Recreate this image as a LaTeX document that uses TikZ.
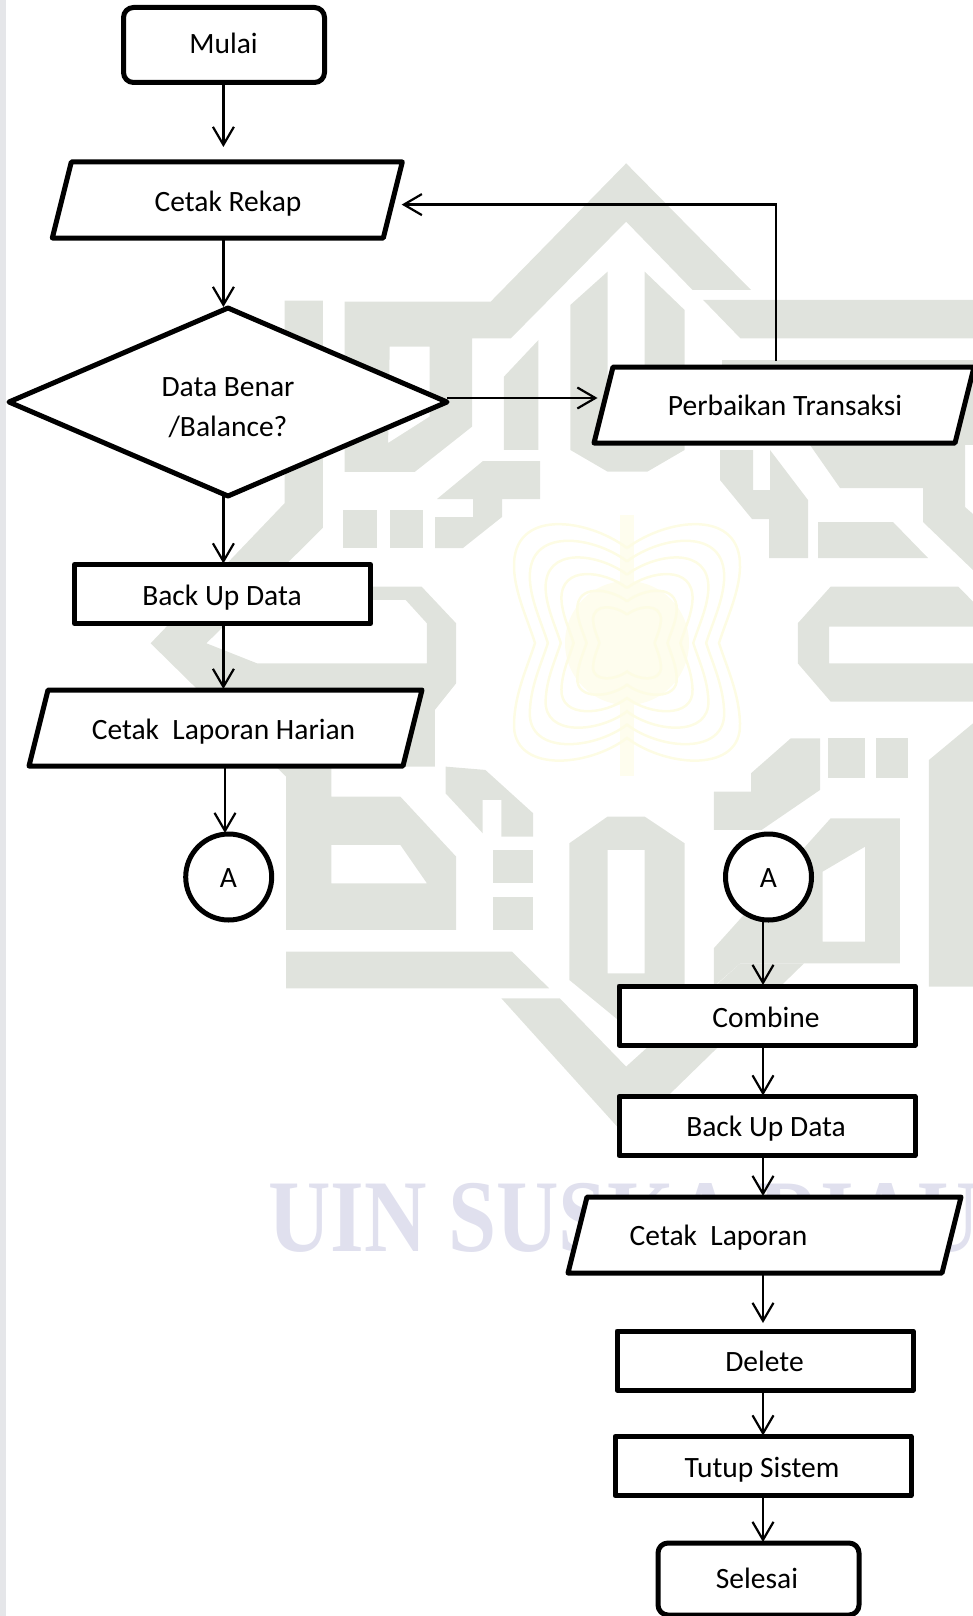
\documentclass[tikz,border=0pt]{standalone}
\usepackage{fontspec}
\setmainfont{Carlito}
\newfontfamily\wmfont{Liberation Serif}
\usetikzlibrary{arrows.meta,shapes.geometric,calc}
\definecolor{wmgray}{HTML}{E0E3DD}
\definecolor{wmyell}{HTML}{FEFDEE}
\definecolor{wmline}{HTML}{FDFCE4}
\definecolor{wmblue}{HTML}{E0E0EE}
\definecolor{wmside}{HTML}{E5E6E9}
\tikzset{
  boxed/.style={draw,line width=5pt,fill=white,inner sep=0pt,outer sep=0pt,line join=round},
  process/.style={boxed,rectangle,minimum width=296pt,minimum height=59pt},
  terminal/.style={boxed,rectangle,rounded corners=10pt,minimum width=201pt},
  dataio/.style={boxed,rectangle,xslant=0.25,minimum width=331pt,minimum height=76pt},
  connector/.style={boxed,circle,minimum size=86pt},
  lbl/.style={inner sep=0pt,font=\fontsize{29.5}{40}\selectfont,align=center},
  flow/.style={draw,line width=2.2pt,-{Straight Barb[length=18pt,width=21pt,line width=2.2pt]},shorten >=1pt}
}
\begin{document}
\begin{tikzpicture}[x=1pt,y=-1pt]
\useasboundingbox (0,0) rectangle (973,1616);
% watermark
\fill[wmside] (0,0) rectangle (6,1616);
\fill[wmyell] (627,643) circle (62pt);
\fill[wmyell] (620,515) rectangle (634,776);
\foreach \s in {1,.86,.72,.58,.44,.3}
  \draw[wmline,line width=2.5pt,shift={(627,643)},scale=\s]
    (0,-95) .. controls (-40,-125) and (-115,-135) .. (-113,-75) .. controls (-112,-50) and (-100,-25) .. (-92,0)
    .. controls (-100,25) and (-112,50) .. (-113,80) .. controls (-115,130) and (-40,125) .. (0,95)
    .. controls (40,125) and (115,130) .. (113,80) .. controls (112,50) and (100,25) .. (92,0)
    .. controls (100,-25) and (112,-50) .. (113,-75) .. controls (115,-135) and (40,-125) .. (0,-95);
\begin{scope}[wmgray]
\fill plot coordinates {(720,450) (753,450) (753,490) (770,490) (770,450) (808,500) (808,558) (769,558) (769,519) (752,519) (720,480)} -- cycle;
\fill plot coordinates {(810,445) (965,445) (965,507) (973,514) (973,570) (923,522) (923,488) (840,488)} -- cycle;
\fill plot coordinates {(818,522) (893,522) (928,558) (818,558)} -- cycle;
\fill plot coordinates {(343,510) (377,510) (377,548) (343,548)} -- cycle;
\fill plot coordinates {(390,510) (423,510) (423,548) (390,548)} -- cycle;
\fill plot coordinates {(435,517) (473,517) (473,499) (437,499) (483,461) (540,461) (540,499) (502,499) (502,517) (463,548) (435,548)} -- cycle;
\end{scope}
\begin{scope}[shift={(140,150)},x=0.5313pt,y=-0.3333pt,wmgray,even odd rule]
\fill plot coordinates {(385,455) (660,455) (915,40) (1150,420) (1040,420) (915,215) (698,565) (625,565) (625,830) (517,966) (385,966)} -- cycle
      plot coordinates {(470,590) (545,590) (545,800) (467,879)} -- cycle;
\fill plot coordinates {(685,680) (750,570) (750,900) (685,900)} -- cycle;
\fill plot coordinates {(880,365) (880,850) (950,850) (950,365) (1025,480) (1025,900) (955,965) (880,965) (810,900) (810,465)} -- cycle;
\fill plot coordinates {(1060,450) (1568,450) (1568,565) (1130,565)} -- cycle;
\fill plot coordinates {(1095,630) (1568,630) (1568,885) (1095,885)} -- cycle;
\fill plot coordinates {(1300,1310) (1540,1310) (1568,1355) (1568,1430) (1297,1430) (1297,1540) (1568,1540) (1568,1655) (1300,1655) (1238,1540) (1238,1420)} -- cycle;
\fill plot coordinates {(1568,1720) (1485,1830) (1485,2510) (1568,2510)} -- cycle;
\fill plot coordinates {(272,452) (344,452) (344,1134) (125,1480) (220,1540) (540,1540) (540,1420) (500,1350) (385,1350) (385,1310) (530,1310) (595,1420) (595,1600) (555,1680) (555,1850) (360,1850) (360,1940) (490,1940) (595,2120) (595,2340) (275,2340) (275,1880) (20,1480) (272,1060)} -- cycle
      plot coordinates {(360,2085) (490,2085) (540,2200) (360,2200)} -- cycle;
\fill plot coordinates {(275,2405) (700,2405) (770,2515) (275,2515)} -- cycle;
\fill plot coordinates {(575,1850) (650,1860) (740,1990) (740,2060) (680,2060) (680,1950) (645,1950) (645,2050) (575,1930)} -- cycle;
\fill plot coordinates {(665,2100) (740,2100) (740,2200) (665,2200)} -- cycle;
\fill plot coordinates {(665,2240) (740,2240) (740,2340) (665,2340)} -- cycle;
\fill plot coordinates {(880,2000) (950,2000) (1025,2080) (1025,2510) (915,2630) (808,2490) (808,2080)} -- cycle
      plot coordinates {(880,2100) (950,2100) (950,2470) (880,2470)} -- cycle;
\fill plot coordinates {(1080,1925) (1150,1925) (1150,1870) (1225,1765) (1280,1765) (1280,1920) (1170,2040) (1080,2040)} -- cycle;
\fill plot coordinates {(1295,1765) (1365,1765) (1365,1885) (1295,1885)} -- cycle;
\fill plot coordinates {(1385,1765) (1445,1765) (1445,1885) (1385,1885)} -- cycle;
\fill plot coordinates {(1080,2395) (1300,2005) (1430,2005) (1430,2440) (1130,2440) (1080,2510)} -- cycle
      plot coordinates {(1365,2090) (1285,2165) (1285,2375) (1365,2375)} -- cycle;
\fill plot coordinates {(680,2545) (790,2545) (915,2750) (1130,2440) (1250,2440) (915,2960)} -- cycle;
\end{scope}
\node[wmblue,anchor=west,inner sep=0pt,xscale=0.84,font=\wmfont\bfseries\fontsize{103}{103}\selectfont] (wmtext) at (268,1218) {UIN SUSKA RIAU};
% left column
\node[terminal,minimum height=75pt] (mulai) at (224,45) {};
\node[dataio] (rekap) at (227.3,200) {};
\node[boxed,diamond,aspect=2.33,minimum width=438pt,minimum height=188pt] (cek) at (228,402) {};
\node[process] (backup) at (222.5,594) {};
\node[dataio,minimum width=374pt] (harian) at (225.5,728) {};
\node[connector] (ca) at (228.7,877) {};
% right column
\node[dataio,minimum width=361pt] (perbaikan) at (784,405) {};
\node[connector] (cb) at (768.5,877) {};
\node[process] (combine) at (767,1015.5) {};
\node[process] (backupb) at (767,1126) {};
\node[dataio,minimum width=374pt] (laporan) at (764.5,1235) {};
\node[process] (delete) at (765,1360.5) {};
\node[process] (tutup) at (763,1466) {};
\node[terminal,minimum height=72pt] (selesai) at (758.5,1579) {};
\coordinate (axisl) at (223.4,0);
\coordinate (axisc) at (225,0);
\coordinate (axisr) at (763,0);
\coordinate (loopx) at (775.7,204.6);
% connectors
\draw[flow,shorten >=15pt] (mulai.south-|axisl) -- (rekap.north-|axisl);
\draw[flow] (rekap.south-|axisl) -- (cek.north-|axisl);
\draw[flow] (cek.south-|axisl) -- (backup.north-|axisl);
\draw[flow] (backup.south-|axisl) -- (harian.north-|axisl);
\draw[flow] (harian.south-|axisc) -- (ca.north-|axisc);
\draw[flow,shorten >=6pt] ($(cek.east)+(0,-4)$) -- ($(perbaikan.west)+(0,-7)$);
\draw[flow,shorten >=0pt] ($(perbaikan.north-|loopx)+(0,-6)$) -- (loopx) -- ++(-374,0);
\draw[flow] (cb.south-|axisr) -- (combine.north-|axisr);
\draw[flow] (combine.south-|axisr) -- (backupb.north-|axisr);
\draw[flow] (backupb.south-|axisr) -- (laporan.north-|axisr);
\draw[flow,shorten >=8pt] (laporan.south-|axisr) -- (delete.north-|axisr);
\draw[flow] (delete.south-|axisr) -- (tutup.north-|axisr);
\draw[flow] (tutup.south-|axisr) -- (selesai.north-|axisr);
% labels
\node[lbl] (t1) at (223.5,43) {Mulai};
\node[lbl] (t2) at (228,203.5) {Cetak Rekap};
\node[lbl] (t3) at (228,408) {Data Benar\\/Balance?};
\node[lbl] (t4) at (222,597.5) {Back Up Data};
\node[lbl] (t5) at (223.5,732) {Cetak\ \ Laporan Harian};
\node[lbl] (t6) at (228.5,878) {A};
\node[lbl] (t7) at (768.5,878) {A};
\node[lbl] (t8) at (785,405.5) {Perbaikan Transaksi};
\node[lbl] (t9) at (766,1017.5) {Combine};
\node[lbl] (t10) at (766,1129) {Back Up Data};
\node[lbl] (t11) at (718.5,1238) {Cetak\ \ Laporan};
\node[lbl] (t12) at (764.5,1361) {Delete};
\node[lbl] (t13) at (762,1470) {Tutup Sistem};
\node[lbl] (t14) at (757,1578) {Selesai};
\end{tikzpicture}
\end{document}
